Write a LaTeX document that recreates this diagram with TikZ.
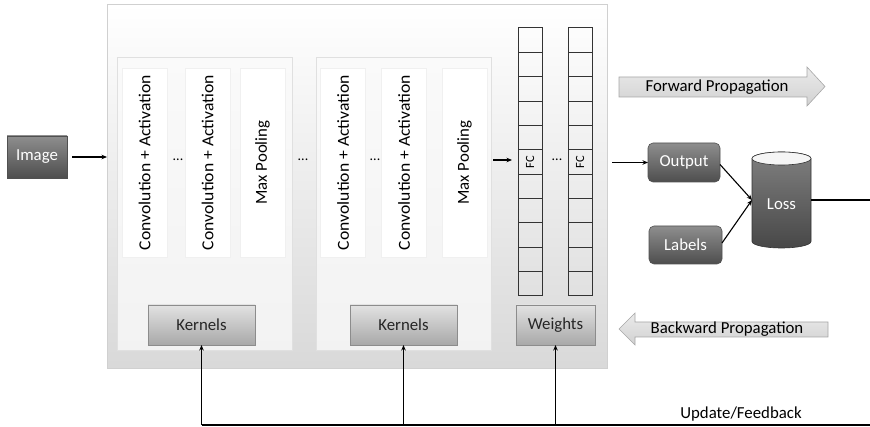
\documentclass[tikz,border=0pt]{standalone}
\usepackage{fontspec}
\usepackage{graphicx}
\setmainfont{Carlito}
\usetikzlibrary{arrows.meta}
\definecolor{boxline}{HTML}{D0D0D0}
\definecolor{darktop}{HTML}{8E8E8E}
\definecolor{darkbot}{HTML}{4E4E4E}
\definecolor{darkline}{HTML}{505050}
\definecolor{kertop}{HTML}{E2E2E2}
\definecolor{kerbot}{HTML}{A8A8A8}
\definecolor{kerline}{HTML}{8C8C8C}
\newcommand{\widetext}[1]{\scalebox{1.05}[1]{#1}}
\tikzset{
  x=1pt, y=1pt,
  every node/.style={font=\fontsize{16.8}{19}\selectfont, inner sep=0pt, outer sep=0pt},
  outerbox/.style={draw=boxline, top color=white, bottom color=black!15, line width=0.8pt},
  innerbox/.style={draw=black!12, top color=black!2, bottom color=black!5, line width=0.8pt},
  layercol/.style={draw=black!6, fill=white, line width=0.6pt, minimum width=45, minimum height=189},
  darkbox/.style={draw=darkline, top color=darktop, bottom color=darkbot, text=white, line width=0.6pt},
  parambox/.style={draw=kerline, top color=kertop, bottom color=kerbot, text=black!85, line width=0.6pt, minimum height=40},
  fccol/.style={draw=black!80, line width=1pt, minimum width=24, minimum height=268},
  bigarrow/.style={draw=black!35, top color=black!8, bottom color=black!18, line width=0.6pt},
  conn/.style={line width=1.1pt, -{Stealth[length=5.5pt,width=4.5pt]}},
  plainline/.style={line width=1.1pt},
  dotsstyle/.style={font=\fontsize{14}{16}\selectfont},
}
\begin{document}
\begin{tikzpicture}
\useasboundingbox (0,0) rectangle (870,-427);

% outer network frame and the two convolution blocks
\node[outerbox, minimum width=500, minimum height=364] (frame) at (357,-186) {};
\node[innerbox, minimum width=175, minimum height=293] (blockA) at (204.5,-203.5) {};
\node[innerbox, minimum width=175, minimum height=293] (blockB) at (403.5,-203.5) {};

% layer columns of the first block
\node[layercol] (a1) at (144.5,-162.5) {};
\node[rotate=90] at (a1) {\widetext{Convolution + Activation}};
\node[layercol] (a2) at (207.5,-162.5) {};
\node[rotate=90] at (a2) {\widetext{Convolution + Activation}};
\node[layercol] (a3) at (262.5,-162.5) {};
\node[rotate=90] at (a3) {Max Pooling};
\node[dotsstyle] (dA) at (178,-160) {...};

\node[dotsstyle] (dAB) at (303,-160) {...};

% layer columns of the second block
\node[layercol] (b1) at (343,-162.5) {};
\node[rotate=90] at (b1) {\widetext{Convolution + Activation}};
\node[layercol] (b2) at (404,-162.5) {};
\node[rotate=90] at (b2) {\widetext{Convolution + Activation}};
\node[layercol] (b3) at (464.5,-162.5) {};
\node[rotate=90] at (b3) {Max Pooling};
\node[dotsstyle] (dB) at (375,-160) {...};

% fully connected layers
\node[fccol] (fc1) at (530,-162) {};
\node[fccol] (fc2) at (580,-162) {};
\foreach \c in {fc1,fc2}{
  \foreach \k in {1,...,10}{
    \draw[black!80, line width=1pt] ([yshift=-\k*24.36]\c.north west) -- ([yshift=-\k*24.36]\c.north east);
  }
  \node[rotate=90, font=\fontsize{12.5}{14}\selectfont] at (\c) {FC};
}
\node[dotsstyle] (dFC) at (557,-160) {...};

% parameter boxes
\node[parambox, minimum width=107] (ker1) at (201.5,-325) {Kernels};
\node[parambox, minimum width=107] (ker2) at (403.5,-325) {Kernels};
\node[parambox, minimum width=79] (wts) at (555.5,-325) {Weights};

% input
\node[darkbox, minimum width=60, minimum height=42] (img) at (37,-157) {Image};
\draw[conn] (img.east) ++(5,0) coordinate (imgout) -- (frame.west |- imgout);

% output, labels and loss
\node[darkbox, rounded corners=5pt, minimum width=72, minimum height=39] (out) at (684,-162.5) {Output};
\node[darkbox, rounded corners=5pt, minimum width=73, minimum height=38] (lab) at (685.5,-245) {Labels};

\shade[top color=black!50, bottom color=black!72, draw=black!80, line width=0.6pt]
  (752,-158.5) -- (752,-241.5) arc (180:360:29.5 and 6.5) -- (811,-158.5) arc (0:180:29.5 and 6.5) -- cycle;
\draw[draw=black!80, fill=black!4, line width=0.6pt] (781.5,-158.5) ellipse (29.5 and 6.5);
\node[text=white, minimum width=59, minimum height=80] (loss) at (781.5,-204) {Loss};

\coordinate (lossin) at (752,-200);
\coordinate (fcin) at (512,-160);
\draw[conn] (blockB.east |- fcin) ++(2,0) coordinate (bBout) -- (fcin);
\draw[conn] (fc2.east |- out.west) ++(20,0) coordinate (fcout) -- (out.west);
\draw[conn] ([yshift=-2]out.east) -- (lossin);
\draw[conn] ([yshift=2]lab.east) -- (lossin);
\coordinate (lossend) at (870,-200);
\draw[plainline] (811,-200) -- (lossend);

% propagation arrows
\draw[bigarrow] (619,-77) -- (807,-77) -- (807,-67) -- (825,-86.5) -- (807,-106) -- (807,-97) -- (619,-97) -- cycle;
\node (fwd) at (717,-87) {Forward Propagation};
\draw[bigarrow] (619,-329) -- (635,-313) -- (635,-322) -- (828,-322) -- (828,-337) -- (635,-337) -- (635,-345) -- cycle;
\node (bwd) at (727,-329.5) {Backward Propagation};

% update / feedback path
\coordinate (fbA) at (ker1.south |- 0,-425);
\coordinate (fbB) at (ker2.south |- 0,-425);
\coordinate (fbC) at (wts.south |- 0,-425);
\coordinate (fbend) at (870,-425);
\draw[plainline] (fbA) -- (fbend);
\draw[conn] (fbA) -- (ker1.south);
\draw[conn] (fbB) -- (ker2.south);
\draw[conn] (fbC) -- (wts.south);
\node (fblabel) at (741,-414) {Update/Feedback};
\end{tikzpicture}
\end{document}
